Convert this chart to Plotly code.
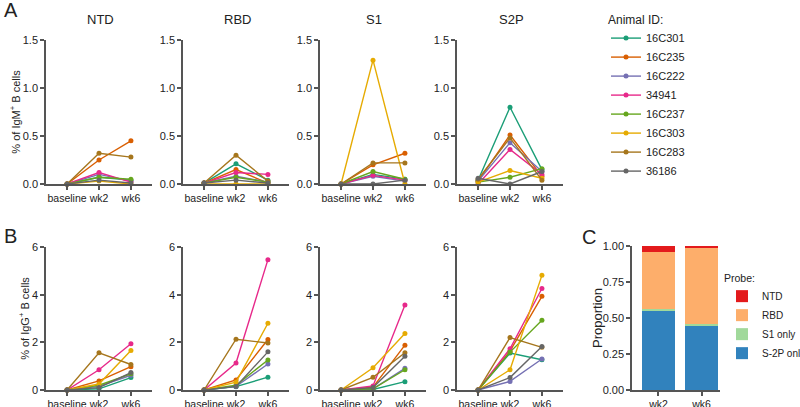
import plotly.graph_objects as go

animals = ["16C301", "16C235", "16C222", "34941", "16C237", "16C303", "16C283", "36186"]
colors = ["#1b9e77", "#d95f02", "#7570b3", "#e7298a", "#66a61e", "#e6ab02", "#a6761d", "#666666"]
timepoints = ["baseline", "wk2", "wk6"]
probes = ["NTD", "RBD", "S1", "S2P"]

# % of IgM+ B cells, rows follow `animals`, columns follow `timepoints`
igm_ntd = [[0, 0.07, 0.04], [0, 0.25, 0.45], [0, 0.10, 0.03], [0, 0.12, 0.02],
           [0, 0.07, 0.05], [0, 0.03, 0.0], [0, 0.32, 0.28], [0, 0.04, 0.01]]
igm_rbd = [[0.01, 0.21, 0.04], [0.01, 0.15, 0.01], [0.01, 0.08, 0.02], [0.01, 0.12, 0.10],
           [0.01, 0.07, 0.02], [0.0, 0.0, 0.0], [0.01, 0.30, 0.03], [0.01, 0.04, 0.01]]
igm_s1 = [[0, 0.10, 0.05], [0, 0.20, 0.32], [0, 0.08, 0.03], [0, 0.09, 0.04],
          [0, 0.13, 0.05], [0, 1.29, 0.0], [0, 0.22, 0.22], [0, 0.0, 0.04]]
igm_s2p = [[0.04, 0.80, 0.15], [0.03, 0.51, 0.08], [0.03, 0.43, 0.13], [0.0, 0.36, 0.10],
           [0.02, 0.07, 0.16], [0.02, 0.14, 0.06], [0.05, 0.48, 0.04], [0.06, 0.0, 0.13]]

# % of IgG+ B cells
igg_ntd = [[0, 0.05, 0.52], [0, 0.38, 0.98], [0, 0.15, 0.62], [0, 0.85, 1.94],
           [0, 0.20, 0.68], [0, 0.25, 1.66], [0, 1.56, 1.07], [0, 0.10, 0.73]]
igg_rbd = [[0, 0.14, 0.54], [0, 0.42, 2.12], [0, 0.15, 1.09], [0, 1.13, 5.47],
           [0, 0.20, 1.26], [0, 0.33, 2.80], [0, 2.13, 1.97], [0, 0.15, 1.60]]
igg_s1 = [[0, 0.02, 0.35], [0, 0.12, 1.88], [0, 0.05, 0.91], [0, 0.17, 3.57],
          [0, 0.05, 0.85], [0, 0.93, 2.37], [0, 0.53, 1.56], [0, 0.10, 1.42]]
igg_s2p = [[0, 1.55, 1.27], [0, 1.63, 3.93], [0, 0.36, 1.30], [0, 1.73, 4.26],
           [0, 1.59, 2.93], [0, 0.85, 4.81], [0, 2.20, 1.79], [0, 0.52, 1.83]]

# Panel C proportions
weeks = ["wk2", "wk6"]
prop_s2p_only = [0.55, 0.45]
prop_s1_only = [0.01, 0.005]
prop_rbd = [0.40, 0.53]
prop_ntd = [0.04, 0.015]
probe_names = ["S-2P only", "S1 only", "RBD", "NTD"]
probe_colors = ["#3182bd", "#a1d99b", "#fdae6b", "#e31a1c"]

FONT = "Arial, Liberation Sans, sans-serif"
TXT = "#222222"
AX = "#555555"
W, H = 800, 407

fig = go.Figure()

igm_panels = [igm_ntd, igm_rbd, igm_s1, igm_s2p]
igg_panels = [igg_ntd, igg_rbd, igg_s1, igg_s2p]
lefts = [46, 183, 320, 457]
pw = 106

def py(p):
    return 1 - p / H

axis_common = dict(showline=True, linecolor=AX, linewidth=1.5, ticks="outside",
                   ticklen=4, tickwidth=1.5, tickcolor=AX, showgrid=False, zeroline=False,
                   automargin=False, tickfont=dict(family=FONT, size=11, color=TXT))
xfont = dict(family=FONT, size=10.5, color=TXT)

idx = 0
for row, (panels, ymax, dtick, fmt, title) in enumerate([
        (igm_panels, 1.5, 0.5, ".1f", "% of IgM<sup>+</sup> B cells"),
        (igg_panels, 6, 2, "d", "% of IgG<sup>+</sup> B cells")]):
    for col, data in enumerate(panels):
        idx += 1
        xa = "x" if idx == 1 else f"x{idx}"
        ya = "y" if idx == 1 else f"y{idx}"
        for a, (name, c) in enumerate(zip(animals, colors)):
            fig.add_trace(go.Scatter(
                x=timepoints, y=data[a], mode="lines+markers", name=name,
                legendgroup=name, showlegend=(idx == 1), legend="legend",
                line=dict(color=c, width=1.4), marker=dict(color=c, size=5),
                cliponaxis=False, xaxis=xa, yaxis=ya))
        if row == 0:
            ydom = [py(184), py(40)]
        else:
            ydom = [py(390), py(247)]
        l = lefts[col]
        xax = dict(domain=[l / W, (l + pw) / W], anchor=ya, type="category",
                   range=[-0.66, 2.66], tickangle=0, **axis_common)
        xax["tickfont"] = xfont
        fig.layout[f"xaxis{'' if idx == 1 else idx}"] = xax
        yax = dict(domain=ydom, anchor=xa, range=[0, ymax], dtick=dtick,
                   tickformat=fmt, **axis_common)
        if col == 0:
            yax["title"] = dict(text=title, font=dict(family=FONT, size=11, color=TXT), standoff=0)
        fig.layout[f"yaxis{'' if idx == 1 else idx}"] = yax
        if row == 0:
            fig.add_annotation(text=probes[col], x=(l + pw / 2 + 1) / W, y=py(20),
                               xref="paper", yref="paper", showarrow=False,
                               xanchor="center", yanchor="middle",
                               font=dict(family=FONT, size=13, color=TXT))

# Panel C
stack = [prop_s2p_only, prop_s1_only, prop_rbd, prop_ntd]
for name, vals, c in zip(probe_names, stack, probe_colors):
    fig.add_trace(go.Bar(x=weeks, y=vals, name=name, marker=dict(color=c, line=dict(width=0)),
                         width=0.77, xaxis="x9", yaxis="y9", legend="legend2"))
xax9 = dict(domain=[632 / W, 720 / W], anchor="y9", type="category",
            range=[-0.616, 1.43], tickangle=0, **axis_common)
xax9["tickfont"] = xfont
fig.layout["xaxis9"] = xax9
fig.layout["yaxis9"] = dict(domain=[py(390), py(246)], anchor="x9", range=[0, 1], dtick=0.25,
                            tickformat=".2f", **axis_common)
fig.add_annotation(text="Proportion", x=597 / W, y=py(318), xref="paper", yref="paper",
                   showarrow=False, textangle=-90, xanchor="center", yanchor="middle",
                   font=dict(family=FONT, size=13, color=TXT))

# Panel letters
for letter, x, y in [("A", 2, 10), ("B", 2, 236), ("C", 580, 237)]:
    fig.add_annotation(text=letter, x=x / W, y=py(y), xref="paper", yref="paper",
                       xanchor="left", yanchor="middle", showarrow=False,
                       font=dict(family=FONT, size=20, color=TXT))

fig.update_layout(
    width=W, height=H, margin=dict(l=0, r=0, t=0, b=0, autoexpand=False),
    paper_bgcolor="white", plot_bgcolor="white", barmode="stack",
    legend=dict(x=606 / W, y=py(8), xanchor="left", yanchor="top",
                title=dict(text="Animal ID:", font=dict(family=FONT, size=12, color=TXT)),
                font=dict(family=FONT, size=11, color=TXT), itemwidth=30,
                bgcolor="rgba(0,0,0,0)", tracegroupgap=0),
    legend2=dict(x=722 / W, y=py(268), xanchor="left", yanchor="top",
                 title=dict(text="Probe:", font=dict(family=FONT, size=10.5, color=TXT)),
                 font=dict(family=FONT, size=10, color=TXT), traceorder="reversed",
                 bgcolor="rgba(0,0,0,0)", itemwidth=30),
)

fig.write_html("out.html", config={"displayModeBar": False},
               post_script="document.body.style.margin='0';")
